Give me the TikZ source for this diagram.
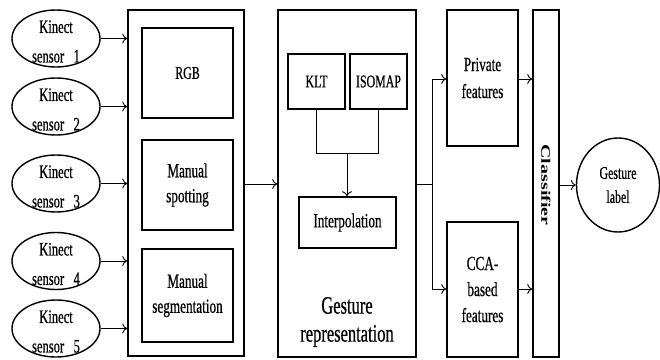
\documentclass[tikz,border=0pt]{standalone}
\usepackage{fontspec}
\setmainfont[FakeStretch=0.66,FakeBold=0.6]{Liberation Serif}
\newfontfamily\plainserif{Liberation Serif}
\usetikzlibrary{shapes.geometric,arrows.meta}
\begin{document}
\begin{tikzpicture}[x=1pt,y=-1pt,
  box/.style={draw, line width=1.6pt, inner sep=0pt, align=center},
  sensor/.style={draw, ellipse, line width=1.4pt, minimum width=88pt, minimum height=57pt, inner sep=0pt},
  stxt/.style={inner sep=0pt, align=center, font=\fontsize{19}{29.5}\selectfont},
  arr/.style={line width=0.9pt, -{To[length=5pt,width=10pt]}},
  ln/.style={line width=0.9pt},
  txt20/.style={font=\fontsize{20}{25}\selectfont},
  txt18/.style={font=\fontsize{18}{23}\selectfont},
]
\useasboundingbox (0,0) rectangle (660,359);

% sensors
\node[sensor] (s1) at (56,38.5) {};
\node[sensor] (s2) at (56,106.5) {};
\node[sensor] (s3) at (56,183.5) {};
\node[sensor] (s4) at (56,261) {};
\node[sensor] (s5) at (56,328.5) {};
\node[stxt] (t1) at (56,41.5) {Kinect\\sensor\enspace1};
\node[stxt] (t2) at (56,109.5) {Kinect\\sensor\enspace2};
\node[stxt] (t3) at (56,186.5) {Kinect\\sensor\enspace3};
\node[stxt] (t4) at (56,264) {Kinect\\sensor\enspace4};
\node[stxt] (t5) at (56,331.5) {Kinect\\sensor\enspace5};

% box 1
\node[box, minimum width=116pt, minimum height=346pt] (b1) at (186,183) {};
\node[box, txt18, minimum width=91pt, minimum height=90pt] (rgb) at (187.5,73) {RGB};
\node[box, txt20, minimum width=91pt, minimum height=90pt] (spot) at (187.5,185) {Manual\\spotting};
\node[box, txt20, minimum width=91pt, minimum height=93pt] (seg) at (187.5,295.5) {Manual\\segmentation};

% box 2
\node[box, minimum width=138pt, minimum height=347pt] (b2) at (347,183.5) {};
\node[box, txt18, minimum width=57pt, minimum height=55pt] (klt) at (316.5,81.5) {KLT};
\node[box, txt18, minimum width=57pt, minimum height=55pt] (iso) at (378.5,81.5) {ISOMAP};
\node[box, txt20, minimum width=97pt, minimum height=51pt] (interp) at (347.5,222.5) {Interpolation};
\node[font=\fontsize{25}{28}\selectfont, align=center, inner sep=0pt] (gr) at (347,322) {Gesture\\representation};

% features
\node[box, font=\fontsize{20}{27}\selectfont, minimum width=71pt, minimum height=136pt] (priv) at (482.5,78) {Private\\features};
\node[box, font=\fontsize{20}{26}\selectfont, minimum width=71pt, minimum height=135pt] (cca) at (482.5,289.5) {CCA-\\based\\features};

% classifier
\node[box, minimum width=26pt, minimum height=347pt] (cls) at (546,183.5) {};
\node[rotate=-90, inner sep=0pt, font=\plainserif\bfseries\fontsize{20}{24}\selectfont] (clst) at (546,185) {\scalebox{1}[0.65]{Classifier}};

% gesture label
\node[draw, ellipse, line width=1.4pt, minimum width=83pt, minimum height=94pt, inner sep=0pt, align=center, font=\fontsize{18}{24}\selectfont] (gl) at (618,185) {Gesture\\label};

% connectors
\foreach \s in {s1,s2,s3,s4,s5}
  \draw[arr] (\s.east) -- (\s.east -| b1.west);
\coordinate (o1) at (244,184);
\draw[arr] (b1.east |- o1) -- (b2.west |- o1);

\coordinate (j) at (347,153);
\draw[ln] (klt.south) -- (klt.south |- j) -- (iso.south |- j) -- (iso.south);
\draw[arr] (j) -- (interp.north -| j);

\coordinate (sp) at (432,184);
\coordinate (pu) at (432,79);
\coordinate (pd) at (432,289);
\draw[ln] (b2.east |- sp) -- (sp);
\draw[ln] (pu) -- (pd);
\draw[arr] (pu) -- (priv.west |- pu);
\draw[arr] (pd) -- (cca.west |- pd);
\draw[arr] (priv.east |- pu) -- (cls.west |- pu);
\draw[arr] (cca.east |- pd) -- (cls.west |- pd);
\draw[arr] (cls.east |- gl.west) -- (gl.west);
\end{tikzpicture}
\end{document}
